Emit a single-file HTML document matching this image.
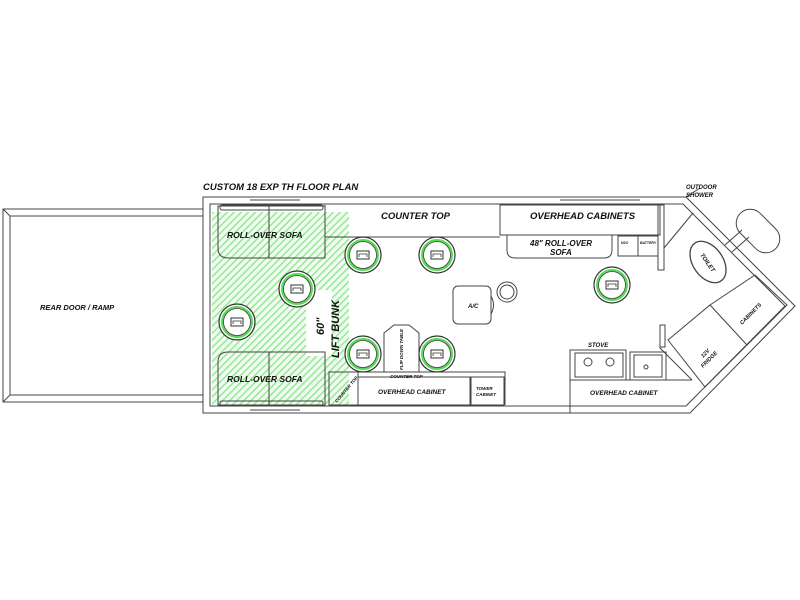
<!DOCTYPE html>
<html><head><meta charset="utf-8"><style>
html,body{margin:0;padding:0;background:#fff;}
svg{display:block}
text{font-family:"Liberation Sans",Arial,sans-serif;font-weight:bold;font-style:italic;fill:#111}
</style></head><body>
<svg width="800" height="600" viewBox="0 0 800 600" xmlns="http://www.w3.org/2000/svg">
<defs>
<pattern id="h" width="5" height="5" patternUnits="userSpaceOnUse" patternTransform="rotate(45)">
<rect width="5" height="5" fill="#f0fcf0"/><rect width="1.3" height="5" fill="#8be58b"/>
</pattern>
<g id="seat">
<circle r="18" fill="#fff" stroke="#333" stroke-width="1.2"/>
<circle r="15" fill="#fff" stroke="#4ee04e" stroke-width="2"/>
<circle r="13.5" fill="none" stroke="#333" stroke-width="0.8"/>
<rect x="-6" y="-4" width="12" height="8" fill="#fff" stroke="#333" stroke-width="1"/>
<path d="M-4 2 v-3 h8 v3" fill="none" stroke="#333" stroke-width="0.8"/>
</g>
</defs>
<g fill="none" stroke="#444" stroke-width="1">
<rect x="3" y="209" width="202" height="193"/>
<rect x="10" y="216" width="195" height="179"/>
<line x1="3" y1="209" x2="10" y2="216"/><line x1="3" y1="402" x2="10" y2="395"/>
<path d="M203 197 H686 L795 306 L690 413 H203 Z" fill="#fff"/>
<path d="M210 204 H683 L785 306 L686 406 H210 Z"/>
</g>
<rect x="212" y="212" width="137" height="193" fill="url(#h)"/>
<rect x="306" y="290" width="26" height="66" fill="#fff"/>
<g fill="none" stroke="#444" stroke-width="1">
<path d="M218 206 H325 V258 H228 Q218 258 218 248 Z"/>
<line x1="269" y1="206" x2="269" y2="258"/>
<path d="M218 362 Q218 352 228 352 H325 V405 H218 Z"/>
<line x1="269" y1="352" x2="269" y2="405"/>
<rect x="220" y="205" width="103" height="5" rx="2"/>
<rect x="220" y="401" width="103" height="5" rx="2"/>
<path d="M325 205 V237 H500"/>
<rect x="500" y="205" width="160" height="30"/>
<path d="M507 235 V250 Q507 258 515 258 H604 Q612 258 612 250 V235"/>
<rect x="618" y="236" width="40" height="20"/>
<line x1="638" y1="236" x2="638" y2="256"/>
<rect x="658" y="205" width="6" height="65"/>
<path d="M664 248 L693 213"/>
<rect x="453" y="286" width="38" height="38" rx="5"/>
<path d="M491 296 q5 9 0 18"/>
<circle cx="507" cy="292" r="10"/><circle cx="507" cy="292" r="7"/>
<path d="M384 372 V333 L394 325 H409 L419 333 V372"/>
<path d="M348 372 H505 V405"/>
<rect x="358" y="377" width="112" height="28"/>
<rect x="471" y="377" width="33" height="28"/>
<rect x="329" y="372" width="29" height="33"/>
<rect x="570" y="350" width="56" height="30"/>
<rect x="575" y="353" width="48" height="24"/>
<circle cx="588" cy="362" r="4"/><circle cx="610" cy="362" r="4"/>
<rect x="630" y="352" width="36" height="28"/>
<rect x="634" y="355" width="28" height="22"/>
<circle cx="646" cy="367" r="2"/>
<path d="M570 380 H692 M570 380 V413"/>
<path d="M660 325 V348 L692 380" />
<rect x="660" y="325" width="5" height="22"/>
<path d="M668 340 L710 305 L747 345 L705 387 Z"/>
<path d="M710 305 L755 275 L787 305 L747 345"/>
<ellipse cx="708" cy="262" rx="23" ry="15" transform="rotate(55 708 262)" stroke-width="1.3"/>
<path d="M725 245 L742 230 M732 252 L749 237"/>
<rect x="733" y="217" width="50" height="28" rx="14" transform="rotate(45 758 231)"/>
<line x1="250" y1="200" x2="300" y2="200"/><line x1="250" y1="410" x2="300" y2="410"/>
<line x1="560" y1="200" x2="640" y2="200"/>
<path d="M686 197 L700 188"/>
</g>
<use href="#seat" x="363" y="255"/><use href="#seat" x="437" y="255"/>
<use href="#seat" x="297" y="289"/><use href="#seat" x="237" y="322"/>
<use href="#seat" x="363" y="354"/><use href="#seat" x="437" y="354"/>
<use href="#seat" x="612" y="285"/>
<text x="203" y="190" font-size="9.5">CUSTOM 18 EXP TH FLOOR PLAN</text>
<text x="40" y="310" font-size="7.5">REAR DOOR / RAMP</text>
<text x="227" y="238" font-size="8.5">ROLL-OVER SOFA</text>
<text x="227" y="382" font-size="8.5">ROLL-OVER SOFA</text>
<text x="381" y="219" font-size="9.5">COUNTER TOP</text>
<text x="530" y="219" font-size="9.5">OVERHEAD CABINETS</text>
<text x="530" y="246" font-size="8">48" ROLL-OVER</text>
<text x="550" y="255" font-size="8">SOFA</text>
<text x="468" y="308" font-size="6">A/C</text>
<text transform="translate(324 335) rotate(-90)" font-size="11">60"</text>
<text transform="translate(339 358) rotate(-90)" font-size="11">LIFT BUNK</text>
<text transform="translate(403 370) rotate(-90)" font-size="4.5">FLIP DOWN TABLE</text>
<text x="390" y="378" font-size="4.5">COUNTER TOP</text>
<text transform="translate(337 403) rotate(-50)" font-size="4.5">COUNTER TOP</text>
<text x="378" y="394" font-size="6.5">OVERHEAD CABINET</text>
<text x="476" y="390" font-size="4.5">TOWER</text>
<text x="476" y="396" font-size="4.5">CABINET</text>
<text x="588" y="347" font-size="6">STOVE</text>
<text x="590" y="395" font-size="6.5">OVERHEAD CABINET</text>
<text x="686" y="189" font-size="6">OUTDOOR</text>
<text x="686" y="197" font-size="6">SHOWER</text>
<text transform="translate(700 255) rotate(55)" font-size="6">TOILET</text>
<text transform="translate(703 358) rotate(-45)" font-size="5.5">12V</text>
<text transform="translate(703 368) rotate(-45)" font-size="5.5">FRIDGE</text>
<text transform="translate(742 325) rotate(-45)" font-size="5.5">CABINETS</text>
<text x="621" y="244" font-size="3.5" font-style="normal">H2O</text>
<text x="640" y="244" font-size="3.5" font-style="normal">BATTERY</text>
</svg>
</body></html>
